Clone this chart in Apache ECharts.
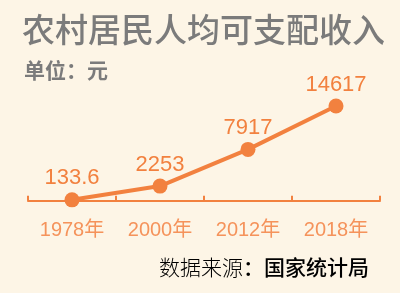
<!DOCTYPE html>
<html><head><meta charset="utf-8">
<script src="https://cdn.jsdelivr.net/npm/echarts@6/dist/echarts.min.js"></script>
<style>html,body{margin:0;padding:0;background:#fdf5e6;}#c{width:400px;height:293px;}</style>
</head><body><div id="c"></div>
<script>
const categories = ['1978年', '2000年', '2012年', '2018年'];
const values = [133.6, 2253, 7917, 14617];
const labels = ['133.6', '2253', '7917', '14617'];

const chart = echarts.init(document.getElementById('c'));
const orange = '#f2813f';
chart.setOption({
  backgroundColor: '#fdf5e6',
  animation: false,
  title: [{
    text: '农村居民人均可支配收入',
    left: 17, top: 8,
    textStyle: {fontFamily: 'Noto Sans CJK SC', fontSize: 33, fontWeight: 500, color: '#7b7b7b'}
  }, {
    text: '单位：元',
    left: 19, top: 55,
    textStyle: {fontFamily: 'Noto Sans CJK SC', fontSize: 21, fontWeight: 'bold', color: '#7b7b7b'}
  }],
  graphic: [{
    type: 'text', right: 31, top: 257,
    style: {
      text: '{a|数据来源}{b|：国家统计局}',
      rich: {
        a: {fontFamily: 'Noto Sans CJK SC', fontSize: 21, fontWeight: 300, color: '#8f8f8f'},
        b: {fontFamily: 'Noto Sans CJK SC', fontSize: 21, fontWeight: 500, color: '#222222'}
      }
    }
  }],
  grid: {left: 28, right: 20, top: 106, bottom: 80},
  xAxis: {
    type: 'category', data: categories, boundaryGap: true,
    axisLine: {lineStyle: {color: orange, width: 2}},
    axisTick: {show: true, inside: true, length: 5, lineStyle: {color: orange, width: 2}},
    axisLabel: {color: '#f5935b', fontSize: 20, margin: 7, fontFamily: 'Liberation Sans, Noto Sans CJK SC'}
  },
  yAxis: {
    type: 'value', min: -1900, max: 14617, show: false, splitLine: {show: false}
  },
  series: [{
    type: 'line', data: values,
    lineStyle: {color: orange, width: 4},
    itemStyle: {color: orange},
    symbol: 'circle', symbolSize: 15,
    label: {
      show: true, position: 'top', distance: 3,
      color: '#f2813f', fontSize: 22, fontFamily: 'Liberation Sans',
      formatter: p => labels[p.dataIndex]
    }
  }]
});
</script></body></html>
